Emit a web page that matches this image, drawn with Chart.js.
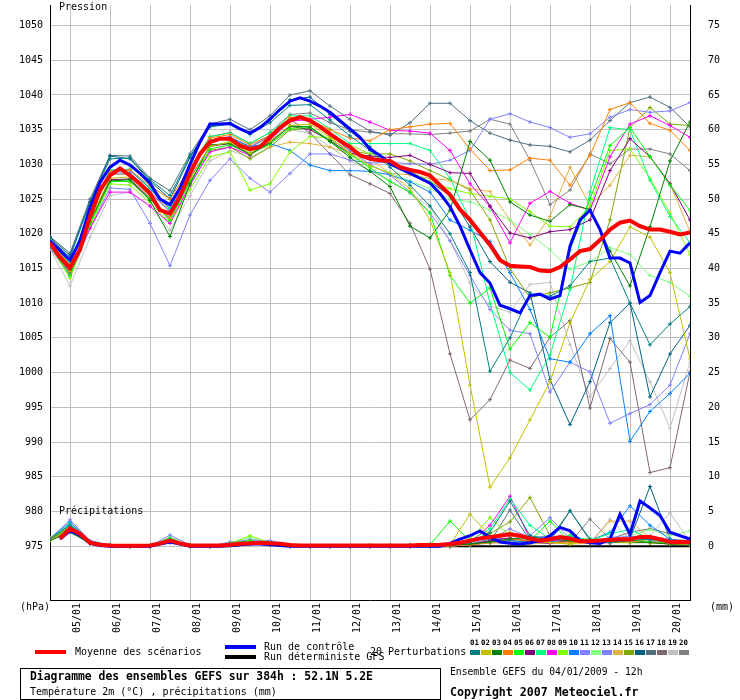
<!DOCTYPE html>
<html><head><meta charset="utf-8">
<script src="https://cdn.jsdelivr.net/npm/chart.js@4.4.1/dist/chart.umd.min.js"></script>
<style>
html,body{margin:0;padding:0;background:#fff;}
body{width:740px;height:700px;overflow:hidden;position:relative;font-family:"DejaVu Sans Mono",monospace;font-size:10px;color:#000;}
canvas{position:absolute;left:0;top:0;}
.t{position:absolute;white-space:pre;line-height:10px;}
.b{font-weight:bold;}
.sw{position:absolute;}
.box{position:absolute;left:20px;top:668px;width:419px;height:30px;border:1px solid #000;}
</style></head>
<body>
<canvas id="c" width="740" height="700"></canvas>
<div class="t" style="left:59px;top:2px;">Pression</div>
<div class="t" style="left:59px;top:506px;">Précipitations</div>
<div class="t" style="left:20px;top:602px;">(hPa)</div>
<div class="t" style="left:710px;top:602px;">(mm)</div>
<div id="legend"></div>
<div class="box"></div>
<div class="t b" style="left:30px;top:671px;font-size:11.4px;">Diagramme des ensembles GEFS sur 384h : 52.1N 5.2E</div>
<div class="t" style="left:30px;top:687px;">Température 2m (°C) , précipitations (mm)</div>
<div class="t" style="left:450px;top:667px;font-size:9.7px;">Ensemble GEFS du 04/01/2009 - 12h</div>
<div class="t b" style="left:450px;top:687px;font-size:11.6px;">Copyright 2007 Meteociel.fr</div>
<script>
// ---------- data ----------
const hours6 = [0,6,12,18,24,30,36,42,48,54,60,66,72,78,84,90,96,102,108,114,120,126,132,138,144,150,156,162,168,174,180,186,192,198,204,210,216,222,228,234,240,246,252,258,264,270,276,282,288,294,300,306,312,318,324,330,336,342,348,354,360,366,372,378,384];
const hours12 = [0,12,24,36,48,60,72,84,96,108,120,132,144,156,168,180,192,204,216,228,240,252,264,276,288,300,312,324,336,348,360,372,384];
const tickHours = [12,36,60,84,108,132,156,180,204,228,252,276,300,324,348,372];
const dateLabels = ['05/01','06/01','07/01','08/01','09/01','10/01','11/01','12/01','13/01','14/01','15/01','16/01','17/01','18/01','19/01','20/01'];
const pressTicks = [975,980,985,990,995,1000,1005,1010,1015,1020,1025,1030,1035,1040,1045,1050];
const precipTicks = [0,5,10,15,20,25,30,35,40,45,50,55,60,65,70,75];

// ensemble mean (6h)
const meanPress = [1018.7,1016.6,1015.1,1017.7,1022.5,1026.3,1028.4,1029.4,1028.4,1027.2,1025.8,1023.4,1022.9,1025.4,1028.7,1031.5,1033.2,1033.7,1033.7,1032.7,1032.2,1032.5,1033.9,1035.3,1036.3,1036.8,1036.3,1035.4,1034.4,1033.4,1032.5,1031.3,1030.8,1030.6,1030.5,1029.6,1029.2,1028.9,1028.4,1027.0,1025.6,1023.5,1022.0,1020.2,1018.4,1016.2,1015.4,1015.3,1015.2,1014.7,1014.6,1015.2,1016.3,1017.5,1017.8,1019.1,1020.6,1021.6,1021.9,1021.1,1020.6,1020.6,1020.3,1019.9,1020.2];
const meanPrecip = [null,1.1,2.5,1.8,0.5,0.2,0.1,0.05,0.05,0.05,0.1,0.4,0.8,0.4,0.1,0.1,0.1,0.1,0.2,0.35,0.4,0.5,0.4,0.35,0.15,0.1,0.1,0.1,0.1,0.1,0.1,0.1,0.1,0.1,0.1,0.1,0.1,0.15,0.15,0.2,0.3,0.5,0.8,1.1,1.3,1.5,1.7,1.5,1.1,0.8,1.0,1.3,1.1,0.7,0.7,0.8,0.9,1.0,1.0,1.3,1.3,1.0,0.6,0.6,0.6];
// control run (6h)
const ctrlPress = [1019.0,1017.6,1016.2,1019.0,1023.8,1027.4,1029.6,1030.6,1029.9,1028.7,1027.3,1025.0,1024.2,1026.6,1030.0,1033.2,1035.8,1035.8,1035.9,1035.1,1034.5,1035.3,1036.5,1037.9,1039.1,1039.6,1039.1,1038.4,1037.5,1036.3,1035.1,1033.9,1032.2,1031.3,1030.1,1029.4,1028.7,1028.0,1027.3,1025.8,1023.9,1021.1,1017.7,1014.4,1012.9,1009.7,1009.2,1008.6,1011.1,1011.3,1010.6,1011.1,1018.2,1022.0,1023.4,1020.6,1016.5,1016.5,1015.8,1010.1,1011.1,1014.4,1017.5,1017.2,1018.7];
const ctrlPrecip = [null,1.0,2.2,1.6,0.4,0.1,0,0,0,0,0,0.3,0.6,0.3,0,0,0,0,0.1,0.2,0.3,0.3,0.2,0.1,0,0,0,0,0,0,0,0,0,0,0,0,0,0,0,0,0.4,1.0,1.5,2.2,1.3,0.6,0.4,0.3,0.5,0.8,1.5,2.7,2.2,0.8,0.5,0.4,1.0,4.6,1.7,6.5,5.5,4.4,2.0,1.5,1.0];
// deterministic GFS (12h)
const detPrecip = [null,3.0,0.6,0,0,0,1.0,0,0,0,0.3,0.6,0,0,0,0,0,0,0,0,0,0,0,0,0,0,0,0,0,0,0,0,0];

// perturbations 01..20 (12h)
const p01 = [1019.3,1016.6,1024.5,1030.8,1030.9,1027.8,1025.5,1031.2,1035.4,1035.8,1034.3,1036.0,1038.5,1038.6,1036.4,1034.1,1032.0,1029.6,1027.0,1024.0,1020.0,1014.4,1000.2,1005.0,1011.3,1011.0,1012.5,1016.0,1016.5,1010.0,1004.0,1007.0,1009.5];
const p02 = [1018.6,1014.6,1022.0,1028.0,1028.2,1025.4,1022.2,1028.0,1032.6,1033.2,1031.6,1033.3,1035.6,1035.8,1033.9,1031.6,1029.8,1028.7,1026.5,1022.0,1014.4,998.2,983.5,987.7,993.2,998.7,1007.2,1013.4,1016.0,1021.0,1019.5,1014.4,1002.0];
const p03 = [1018.4,1014.8,1021.8,1027.6,1027.8,1024.8,1019.6,1027.2,1032.8,1033.0,1031.4,1033.1,1035.5,1035.4,1033.3,1031.0,1029.0,1026.8,1021.1,1019.4,1023.4,1033.3,1030.6,1024.6,1022.7,1021.8,1024.2,1023.5,1017.5,1012.5,1021.0,1030.5,1036.1];
const p04 = [1018.9,1015.5,1023.0,1029.0,1029.2,1026.9,1025.0,1029.5,1033.8,1034.3,1032.8,1034.2,1036.8,1036.4,1035.0,1033.8,1033.4,1035.0,1035.4,1035.8,1035.9,1032.2,1029.1,1029.2,1030.9,1030.6,1027.0,1031.3,1037.9,1038.9,1035.9,1034.9,1032.0];
const p05 = [1018.3,1014.0,1021.4,1027.5,1027.6,1025.0,1021.9,1027.4,1032.2,1032.8,1031.5,1032.9,1035.2,1035.3,1033.3,1031.4,1029.5,1027.5,1026.0,1023.0,1014.0,1010.0,1012.2,1003.4,1007.2,1005.1,1017.7,1025.0,1032.7,1035.3,1031.1,1027.0,1023.4];
const p06 = [1018.4,1014.5,1021.9,1027.8,1027.9,1025.1,1022.2,1028.0,1032.6,1033.0,1031.5,1033.2,1035.5,1035.0,1033.4,1031.6,1031.2,1031.0,1031.3,1030.0,1028.8,1028.7,1024.0,1020.1,1019.4,1020.3,1020.6,1022.0,1029.1,1033.7,1031.1,1027.2,1022.0];
const p07 = [1018.9,1015.8,1023.2,1029.2,1029.3,1026.6,1023.7,1029.5,1034.0,1034.5,1033.0,1034.6,1037.0,1037.0,1035.1,1033.0,1033.0,1033.0,1033.0,1032.0,1028.0,1022.0,1010.0,1000.0,997.5,1002.5,1012.0,1026.0,1035.3,1035.0,1027.7,1022.5,1018.7];
const p08 = [1018.2,1014.2,1020.8,1026.0,1026.0,1024.0,1021.5,1027.0,1031.8,1032.5,1031.3,1033.5,1036.2,1036.5,1036.8,1037.2,1036.1,1034.9,1034.8,1034.5,1032.0,1027.2,1023.9,1018.7,1024.4,1026.1,1024.4,1023.4,1031.1,1035.8,1037.0,1035.6,1033.9];
const p09 = [1018.3,1013.6,1021.0,1027.2,1027.0,1024.5,1021.5,1026.4,1031.1,1031.8,1026.3,1027.2,1031.8,1034.0,1033.8,1032.8,1031.5,1030.0,1029.0,1027.5,1026.5,1025.8,1025.4,1025.0,1023.2,1021.1,1021.0,1023.9,1032.0,1032.2,1028.0,1023.0,1017.0];
const p10 = [1018.9,1015.7,1023.3,1029.1,1029.2,1026.5,1023.6,1029.5,1033.5,1033.8,1032.6,1033.0,1032.0,1029.9,1029.1,1029.1,1029.0,1028.5,1027.5,1026.0,1022.0,1020.5,1018.9,1014.4,1009.1,1002.0,1001.5,1005.6,1008.2,990.1,994.4,997.0,999.9];
const p11 = [1018.0,1013.8,1020.8,1026.6,1026.4,1021.5,1015.4,1022.7,1027.7,1030.8,1028.0,1026.0,1028.7,1031.5,1031.5,1030.6,1030.2,1030.3,1030.1,1030.0,1030.6,1032.0,1036.5,1037.3,1036.1,1035.3,1033.9,1034.4,1036.8,1037.9,1037.5,1037.7,1038.9];
const p12 = [1018.4,1014.3,1021.6,1027.7,1027.8,1025.0,1022.4,1027.9,1032.6,1033.3,1031.8,1033.4,1035.6,1035.4,1033.5,1031.4,1029.8,1028.8,1027.6,1026.5,1025.0,1024.6,1023.4,1022.0,1019.9,1017.7,1014.9,1016.0,1018.0,1017.0,1014.0,1013.0,1011.0];
const p13 = [1018.8,1015.3,1022.8,1028.7,1028.8,1026.1,1023.2,1029.0,1033.5,1034.0,1032.5,1034.2,1036.6,1036.2,1034.2,1032.0,1030.0,1028.5,1026.0,1023.0,1019.0,1014.0,1009.1,1006.1,1005.6,997.2,1001.5,1000.1,992.7,994.1,995.4,998.2,1005.6];
const p14 = [1018.8,1015.3,1022.6,1028.6,1028.6,1026.2,1023.4,1028.9,1033.3,1033.9,1032.4,1032.5,1033.2,1033.0,1032.5,1031.5,1030.8,1028.7,1028.5,1028.0,1027.7,1026.5,1026.1,1022.0,1018.4,1022.5,1029.6,1024.0,1027.0,1031.3,1031.1,1027.2,1020.3];
const p15 = [1018.3,1014.2,1021.5,1027.6,1027.5,1025.0,1022.0,1027.6,1032.0,1032.5,1030.8,1032.5,1035.0,1035.2,1033.6,1032.0,1031.5,1031.5,1030.5,1029.1,1027.8,1026.3,1022.0,1015.0,1010.8,1011.5,1012.2,1013.0,1022.0,1035.3,1038.2,1035.8,1035.6];
const p16 = [1019.5,1016.9,1024.6,1031.2,1030.8,1027.6,1025.0,1031.0,1035.5,1036.0,1034.5,1036.5,1039.3,1039.7,1037.2,1034.8,1032.5,1030.0,1029.0,1027.5,1025.5,1021.0,1016.0,1013.0,1011.5,999.0,992.5,998.7,1007.2,1010.0,996.5,1002.7,1006.8];
const p17 = [1019.6,1017.2,1025.0,1031.3,1031.2,1028.0,1026.2,1031.5,1035.8,1036.5,1035.0,1037.0,1040.0,1040.6,1038.4,1036.5,1034.8,1034.2,1036.0,1038.8,1038.8,1036.3,1034.5,1033.5,1032.8,1032.6,1031.8,1033.5,1036.3,1038.9,1039.7,1038.2,1035.4];
const p18 = [1018.8,1015.3,1022.7,1028.6,1028.6,1026.0,1023.1,1028.9,1033.4,1033.9,1032.4,1034.1,1036.5,1034.5,1031.5,1028.5,1027.2,1025.8,1021.5,1014.9,1002.7,993.2,996.1,1001.8,1000.6,1005.1,1007.5,994.9,1004.9,1001.5,985.6,986.3,1000.1];
const p19 = [1017.8,1012.5,1019.5,1025.5,1026.0,1024.0,1020.5,1025.5,1030.5,1032.0,1031.0,1032.5,1035.0,1034.5,1032.5,1030.5,1029.1,1027.7,1025.8,1023.9,1019.0,1012.9,1009.6,1008.7,1012.7,1013.0,1004.0,996.5,1000.6,1004.6,998.7,992.0,1001.5];
const p20 = [1019.0,1015.6,1023.0,1029.0,1029.1,1026.5,1023.6,1029.4,1034.0,1034.6,1033.0,1034.6,1037.2,1037.4,1036.0,1035.0,1034.6,1034.4,1034.4,1034.3,1034.5,1034.8,1036.5,1035.8,1030.6,1024.2,1026.3,1031.5,1030.1,1032.2,1032.2,1031.5,1029.1];

const r01 = [1.0,3.0,0.6,0.1,0,0,0.9,0.1,0,0.2,0.5,0.3,0.1,0,0,0,0,0,0.1,0.1,0.1,0.5,2.0,6.5,1.5,1.0,5.1,1.0,0.5,0.8,1.0,0.5,0.3];
const r02 = [0.9,2.4,0.5,0.1,0,0,0.7,0.1,0,0.2,0.6,0.2,0,0,0,0,0,0,0.1,0.1,0.2,4.6,1.5,2.0,1.0,0.5,0.3,0.8,0.5,0.5,1.0,0.4,0.2];
const r03 = [0.8,2.0,0.4,0.1,0,0,0.6,0,0,0.3,0.4,0.3,0.1,0,0,0,0,0.1,0,0.1,0.1,0.3,0.6,1.0,1.3,1.0,0.8,0.5,0.6,0.5,0.5,0.3,0.2];
const r04 = [1.1,2.8,0.6,0.1,0,0,0.8,0.1,0,0.2,0.3,0.2,0.1,0,0,0,0,0,0,0,0,0.2,0.5,1.0,0.8,0.5,0.6,0.5,1.0,0.6,0.5,0.3,0.2];
const r05 = [1.0,2.6,0.5,0.1,0,0,1.0,0.1,0,0.4,0.8,0.4,0,0,0,0,0.1,0.1,0.2,0.2,3.6,0.8,1.5,1.8,0.8,3.6,0.6,0.8,1.0,0.9,0.6,0.4,0.3];
const r06 = [0.9,2.3,0.4,0,0,0,0.5,0,0,0.2,0.4,0.2,0,0,0,0,0,0,0,0,0,0.3,0.8,1.2,0.6,0.4,0.8,0.5,0.5,0.8,0.6,0.3,0.3];
const r07 = [1.0,3.2,0.6,0.1,0,0,1.2,0.1,0,0.3,0.6,0.3,0,0,0,0,0,0.1,0.1,0.1,0.2,0.8,2.5,6.8,3.0,1.0,1.5,0.8,1.8,2.4,1.0,0.6,0.3];
const r08 = [0.9,2.5,0.5,0.1,0,0,0.8,0.1,0,0.3,0.5,0.2,0,0,0,0,0,0,0,0.1,0.1,0.5,3.0,7.2,1.0,0.8,1.0,0.5,0.5,0.7,0.6,0.4,0.2];
const r09 = [1.0,2.7,0.5,0.1,0,0,0.9,0.1,0,0.4,1.5,0.5,0.1,0,0,0,0,0.1,0.1,0.2,0.2,1.0,4.1,1.5,1.0,0.8,1.6,0.6,0.6,0.8,0.5,0.5,0.3];
const r10 = [1.1,3.4,0.7,0.1,0,0,0.7,0.1,0,0.2,0.4,0.2,0,0,0,0,0,0,0,0.1,0,0.3,0.6,0.8,0.5,0.6,1.5,0.8,2.0,5.8,3.0,1.0,0.4];
const r11 = [1.0,3.8,0.8,0.2,0,0,1.6,0.2,0,0.6,0.9,0.8,0.2,0,0,0,0,0,0.2,0.3,0.1,0.6,1.2,1.0,1.5,4.1,1.0,0.6,1.0,1.5,0.8,0.6,0.4];
const r12 = [1.0,2.9,0.6,0.1,0,0,0.8,0.1,0,0.5,1.2,0.4,0.1,0,0,0,0.1,0.2,0.1,0.1,0.1,0.4,0.8,1.0,0.6,0.8,0.6,1.2,0.7,1.5,2.4,1.5,2.2];
const r13 = [1.0,3.1,0.6,0.1,0,0,1.0,0.1,0,0.4,0.8,0.5,0.1,0,0,0,0,0,0.1,0.1,0,0.4,1.0,2.5,1.2,1.5,0.8,0.6,1.3,1.3,0.9,0.5,0.4];
const r14 = [1.2,2.6,0.5,0.1,0,0,1.3,0.1,0,0.2,0.4,0.2,0,0,0,0,0,0,0,0,0,0.2,0.5,0.4,0.3,0.5,0.3,0.4,3.6,3.6,1.2,0.7,0.5];
const r15 = [0.8,2.2,0.4,0.1,0,0,0.7,0,0,0.3,0.6,0.3,0,0,0,0,0.1,0,0.1,0.1,0.1,0.4,1.8,3.5,7.0,1.5,0.8,0.5,0.6,0.8,0.6,0.4,0.3];
const r16 = [1.0,2.4,0.5,0.1,0,0,0.6,0,0,0.2,0.3,0.2,0,0,0,0,0,0,0,0,0,0.3,0.8,1.0,0.8,0.6,0.8,0.6,0.8,1.0,8.6,1.0,0.5];
const r17 = [1.1,2.7,0.5,0.1,0,0,0.7,0.1,0,0.2,0.4,0.2,0,0,0,0,0,0,0,0,0,0.3,0.6,5.2,0.8,0.6,5.1,0.8,0.5,0.7,1.0,0.6,0.4];
const r18 = [1.0,2.5,0.5,0.1,0,0,0.6,0.1,0,0.2,0.5,0.2,0,0,0,0,0,0,0,0,0,0.2,0.5,0.8,0.6,1.0,0.6,0.5,1.0,2.0,2.5,1.8,1.2];
const r19 = [1.2,3.6,0.7,0.1,0,0,0.9,0.1,0,0.3,0.7,0.4,0.1,0,0,0,0,0,0,0,0,0.2,0.4,0.6,0.5,0.4,0.6,0.5,3.9,1.0,1.5,4.8,0.6];
const r20 = [1.0,2.8,0.6,0.1,0,0,0.8,0.1,0,0.2,0.5,0.3,0,0,0,0,0,0,0,0,0,0.3,0.6,0.8,0.7,1.0,0.5,3.9,1.0,1.2,1.4,1.0,0.8];

const pertLabels = ['01','02','03','04','05','06','07','08','09','10','11','12','13','14','15','16','17','18','19','20'];
const pertColors = ['#008080','#c0c000','#008000','#ff8000','#00ff00','#800080','#00ff80','#ff00ff','#80ff00','#0080ff','#8080ff','#80ff80','#8080ff','#e0b040','#80a800','#006080','#507080','#806870','#c0c0c0','#808080'];
const pertPress = [p01,p02,p03,p04,p05,p06,p07,p08,p09,p10,p11,p12,p13,p14,p15,p16,p17,p18,p19,p20];
const pertPrecip = [r01,r02,r03,r04,r05,r06,r07,r08,r09,r10,r11,r12,r13,r14,r15,r16,r17,r18,r19,r20];

// ---------- build ----------
const pts = (xs, ys) => xs.map((h, i) => ({x: h, y: ys[i]}));
const datasets = [];
datasets.push({label:'Moyenne des scénarios', data: pts(hours6, meanPress), yAxisID:'y', borderColor:'#ff0000', borderWidth:4, pointRadius:0, order:0});
datasets.push({label:'Moyenne precip', data: pts(hours6, meanPrecip), yAxisID:'y2', borderColor:'#ff0000', borderWidth:4, pointRadius:0, order:0});
datasets.push({label:'Run de contrôle', data: pts(hours6, ctrlPress), yAxisID:'y', borderColor:'#0000ff', borderWidth:3, pointRadius:0, order:1});
datasets.push({label:'Run de contrôle precip', data: pts(hours6, ctrlPrecip), yAxisID:'y2', borderColor:'#0000ff', borderWidth:3, pointRadius:0, order:1});
pertPress.forEach((arr, k) => {
  datasets.push({label:'P'+pertLabels[k], data: pts(hours12, arr), yAxisID:'y', borderColor:pertColors[k], backgroundColor:pertColors[k], borderWidth:1, pointStyle:'cross', pointRadius:2, pointBorderWidth:1, pointBorderColor:pertColors[k], order:2+k});
  datasets.push({label:'R'+pertLabels[k], data: pts(hours12, pertPrecip[k]), yAxisID:'y2', borderColor:pertColors[k], backgroundColor:pertColors[k], borderWidth:1, pointStyle:'cross', pointRadius:2, pointBorderWidth:1, pointBorderColor:pertColors[k], order:2+k});
});
datasets.push({label:'Run déterministe GFS', data: pts(hours12, detPrecip), yAxisID:'y2', borderColor:'#000000', borderWidth:2, pointRadius:0, order:40});

const FONT = {family:'"DejaVu Sans Mono", monospace', size:10};
new Chart(document.getElementById('c'), {
  type:'line',
  data:{datasets},
  options:{
    responsive:false, animation:false, devicePixelRatio:1,
    layout:{padding:0},
    elements:{line:{tension:0}},
    plugins:{legend:{display:false}, tooltip:{enabled:false}, title:{display:false}},
    scales:{
      x:{type:'linear', position:'bottom', min:0, max:384,
        afterBuildTicks:s=>{s.ticks = tickHours.map(v=>({value:v}));},
        afterFit:s=>{s.height=100; s.paddingLeft=0; s.paddingRight=0;},
        grid:{color:'#c0c0c0', lineWidth:1, drawTicks:false},
        border:{display:true, color:'#000', width:1},
        ticks:{autoSkip:false, minRotation:90, maxRotation:90, padding:3, labelOffset:7, color:'#000', font:FONT,
          callback:(v,i)=>dateLabels[i]}
      },
      y:{type:'linear', position:'left', min:967.24, max:1052.96,
        afterBuildTicks:s=>{s.ticks = pressTicks.map(v=>({value:v}));},
        afterFit:s=>{s.width=50; s.paddingTop=0; s.paddingBottom=0;},
        grid:{color:'#c0c0c0', lineWidth:1, drawTicks:false},
        border:{display:true, color:'#000', width:1},
        ticks:{padding:7, color:'#000', font:FONT, callback:v=>String(v)}
      },
      y2:{type:'linear', position:'right', min:-7.76, max:77.96,
        afterBuildTicks:s=>{s.ticks = precipTicks.map(v=>({value:v}));},
        afterFit:s=>{s.width=50; s.paddingTop=0; s.paddingBottom=0;},
        grid:{display:false, drawTicks:false},
        border:{display:true, color:'#000', width:1},
        ticks:{padding:18, color:'#000', font:FONT, callback:v=>String(v)}
      }
    }
  }
});

// ---------- legend (HTML) ----------
const lg = document.getElementById('legend');
function add(html){ lg.insertAdjacentHTML('beforeend', html); }
add('<div class="sw" style="left:35px;top:650px;width:31px;height:4px;background:#ff0000"></div>');
add('<div class="t" style="left:75px;top:647px;">Moyenne des scénarios</div>');
add('<div class="sw" style="left:225px;top:645px;width:31px;height:4px;background:#0000ff"></div>');
add('<div class="t" style="left:264px;top:642px;">Run de contrôle</div>');
add('<div class="sw" style="left:225px;top:655px;width:31px;height:4px;background:#000000"></div>');
add('<div class="t" style="left:264px;top:652px;">Run déterministe GFS</div>');
add('<div class="t" style="left:370px;top:647px;">20 Perturbations</div>');
pertLabels.forEach((lab, k) => {
  add('<div class="t b" style="left:'+(470+11*k)+'px;top:639px;font-size:7.4px;line-height:7px;">'+lab+'</div>');
  add('<div class="sw" style="left:'+(470+11*k)+'px;top:650px;width:10px;height:5px;background:'+pertColors[k]+'"></div>');
});
</script>
</body></html>
